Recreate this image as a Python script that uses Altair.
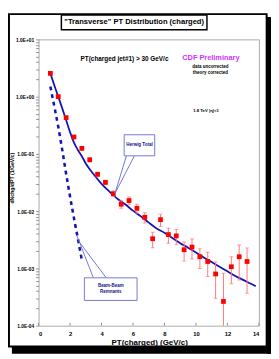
import altair as alt
import pandas as pd

# ---------------- data ----------------
pt_bins = [0.75, 1.25, 1.75, 2.25, 2.75, 3.25, 3.75, 4.25, 4.75, 5.25, 5.75, 6.25, 6.75,
           7.25, 7.75, 8.25, 8.75, 9.25, 9.75, 10.25, 10.75, 11.25, 11.75, 12.25, 12.75, 13.25]
dndpt = [2.55, 1.0, 0.43, 0.197, 0.125, 0.079, 0.044, 0.0318, 0.0202, 0.0132, 0.0153, 0.0112,
         0.0078, 0.0033, 0.0071, 0.0039, 0.0037, 0.00212, 0.00236, 0.0016, 0.00132, 0.0008,
         0.000265, 0.00107, 0.0016, 0.00132]
dndpt_err = [0.12, 0.05, 0.025, 0.012, 0.008, 0.006, 0.004, 0.003, 0.0022, 0.002, 0.0023, 0.002,
             0.0016, 0.001, 0.0017, 0.00115, 0.0011, 0.00078, 0.0009, 0.0006, 0.0006, 0.0005,
             0.00056, 0.00053, 0.00097, 0.00095]

herwig_pt = [0.75, 1.0, 1.25, 1.5, 1.75, 2.0, 2.25, 2.5, 2.75, 3.0, 3.5, 4.0, 4.5, 5.0, 5.5,
             6.0, 6.5, 7.0, 7.5, 8.0, 8.5, 9.0, 9.5, 10.0, 10.5, 11.0, 11.5, 12.0, 12.5, 13.0,
             13.5, 13.8]
herwig_total = [2.55, 1.58, 1.0, 0.63, 0.39, 0.24, 0.158, 0.117, 0.091, 0.068, 0.044, 0.030,
                0.022, 0.0166, 0.0132, 0.0102, 0.0081, 0.0063, 0.0050, 0.0042, 0.0034, 0.00275,
                0.0023, 0.0019, 0.00155, 0.00129, 0.00107, 0.00089, 0.00074, 0.00063, 0.00054,
                0.00049]

bbr_pt = [0.75, 1.0, 1.25, 1.5, 1.75, 2.0, 2.25, 2.5, 2.75]
bbr_val = [1.5, 0.68, 0.3, 0.12, 0.045, 0.018, 0.0075, 0.0033, 0.0014]

y_tick_values = [1e-4, 1e-3, 1e-2, 1e-1, 1.0, 10.0]
y_tick_labels = ["1.0E-04", "1.0E-03", "1.0E-02", "1.0E-01", "1.0E+00", "1.0E+01"]
x_tick_values = [0, 2, 4, 6, 8, 10, 12, 14]

title_text = '"Transverse" PT Distribution (charged)'
x_title = "PT(charged)  (GeV/c)"
y_title = "dNchg/dPT (1/GeV/c)"

# ---------------- layout ----------------
W, H = 227, 295
FONT = "Liberation Sans"
BLUE = "#1414b4"
BOXBLUE = "#7474d8"

xs = alt.Scale(domain=[0, 14], nice=False, zero=False)
ys = alt.Scale(type="log", domain=[1e-4, 10], nice=False)

minor_vals = [m * 10.0 ** k for k in range(-4, 1) for m in range(1, 10)] + [10.0]
label_expr = "".join(
    f"abs(datum.value / {v} - 1) < 1e-6 ? '{lab}' : " for v, lab in zip(y_tick_values, y_tick_labels)
) + "''"

xenc = lambda f: alt.X(f, type="quantitative", scale=xs,
                        axis=alt.Axis(values=x_tick_values, title=None, tickSize=0,
                                      labelFontSize=6, labelFontWeight="bold", labelPadding=5,
                                      labelFont=FONT, labelColor="black", domain=False, grid=False,
                                      zindex=2))
yenc = lambda f: alt.Y(f, type="quantitative", scale=ys,
                        axis=alt.Axis(values=minor_vals, labelExpr=label_expr, title=None,
                                      tickSize=3, tickColor="#909090", labelFontSize=5,
                                      labelFontWeight="bold", labelPadding=2, labelFont=FONT,
                                      labelColor="black", domain=False, grid=False,
                                      labelOverlap=False, zindex=2))

one = pd.DataFrame({"a": [0]})

# outer frame
frame = alt.Chart(one).mark_rect(fillOpacity=0, stroke="black", strokeWidth=2).encode(
    x=alt.value(-30.5), x2=alt.value(235), y=alt.value(-26), y2=alt.value(316.5))
shadow_r = alt.Chart(one).mark_rect(fill="black").encode(
    x=alt.value(235), x2=alt.value(239.5), y=alt.value(-23), y2=alt.value(324))
shadow_b = alt.Chart(one).mark_rect(fill="black").encode(
    x=alt.value(-27.5), x2=alt.value(239.5), y=alt.value(316.5), y2=alt.value(324))

# title box
tbox = alt.Chart(one).mark_rect(fill="white", stroke="black", strokeWidth=1.5).encode(
    x=alt.value(23.5), x2=alt.value(173.5), y=alt.value(-25), y2=alt.value(-10))
ttext = alt.Chart(pd.DataFrame({"t": [title_text]})).mark_text(
    font=FONT, fontWeight="bold", fontSize=7.8, color="black", baseline="middle", align="center"
).encode(x=alt.value(98.5), y=alt.value(-17.5), text="t:N")

# data frames
df_pts = pd.DataFrame({"pt": pt_bins, "v": dndpt, "e": dndpt_err})
df_h = pd.DataFrame({"pt": herwig_pt, "v": herwig_total})
df_b = pd.DataFrame({"pt": bbr_pt, "v": bbr_val})

herwig = alt.Chart(df_h).mark_line(color=BLUE, strokeWidth=1.8, interpolate="monotone").encode(
    x=xenc("pt"), y=yenc("v"))
bbr = alt.Chart(df_b).mark_line(color=BLUE, strokeWidth=2.6, strokeDash=[4, 4]).encode(
    x=xenc("pt"), y=yenc("v"))

base_err = alt.Chart(df_pts).transform_calculate(
    lo="max(datum.v - datum.e, 1e-6)", hi="datum.v + datum.e")
err = base_err.mark_rule(color="#ff7878", strokeWidth=1, clip=True).encode(
    x=xenc("pt"), y=yenc("lo"), y2="hi:Q")
cap_lo = base_err.mark_tick(color="#ff7878", orient="horizontal", size=4, thickness=1, clip=True).encode(
    x=xenc("pt"), y=yenc("lo"))
cap_hi = base_err.mark_tick(color="#ff7878", orient="horizontal", size=4, thickness=1, clip=True).encode(
    x=xenc("pt"), y=yenc("hi"))
pts = alt.Chart(df_pts).mark_square(color="#ff0000", size=24, opacity=1).encode(
    x=xenc("pt"), y=yenc("v"))

# callouts (data coordinates)
boxes = pd.DataFrame({"x": [5.44, 2.91], "x2": [7.38, 6.26],
                      "y": [0.216, 0.000685], "y2": [0.0925, 0.000276]})
pointers = pd.DataFrame({"x": [5.58, 6.09, 3.48, 4.30], "y": [0.0925, 0.0925, 0.000685, 0.000685],
                         "x2": [4.86, 4.86, 2.44, 2.60], "y2": [0.0205, 0.0205, 0.00372, 0.00287]})
ptr = alt.Chart(pointers).mark_rule(color=BOXBLUE, strokeWidth=1).encode(
    x=xenc("x"), y=yenc("y"), x2="x2:Q", y2="y2:Q")
box = alt.Chart(boxes).mark_rect(fill="white", stroke=BOXBLUE, strokeWidth=1).encode(
    x=xenc("x"), x2="x2:Q", y=yenc("y"), y2="y2:Q")
callout_txt = pd.DataFrame({"x": [6.41, 4.59, 4.59], "y": [0.142, 0.000495, 0.000381],
                            "t": ["Herwig Total", "Beam-Beam", "Remnants"]})
ctext = alt.Chart(callout_txt).mark_text(font=FONT, fontWeight="bold", fontSize=4.6,
                                         color="#10108c", baseline="middle").encode(
    x=xenc("x"), y=yenc("y"), text="t:N")

# annotation texts
ann = pd.DataFrame({
    "x": [5.46, 10.95, 10.92, 10.92, 10.64],
    "y": [4.58, 4.77, 3.31, 2.6, 0.557],
    "t": ["PT(charged jet#1) > 30 GeV/c", "CDF Preliminary", "data uncorrected",
          "theory corrected", "1.8 TeV |η|<1"],
    "s": [6.6, 7.6, 4.6, 4.6, 4.4],
    "c": ["black", "#cc33ff", "black", "black", "black"],
})
atext = alt.Chart(ann).mark_text(font=FONT, fontWeight="bold", baseline="middle").encode(
    x=xenc("x"), y=yenc("y"), text="t:N",
    size=alt.Size("s:Q", scale=None, legend=None),
    color=alt.Color("c:N", scale=None, legend=None))

# axis titles
xt = alt.Chart(pd.DataFrame({"t": [x_title]})).mark_text(
    font=FONT, fontWeight="bold", fontSize=8.2, color="black", baseline="middle"
).encode(x=alt.value(114.5), y=alt.value(313), text="t:N")
yt = alt.Chart(pd.DataFrame({"t": [y_title]})).mark_text(
    font=FONT, fontWeight="bold", fontSize=5.3, color="black", baseline="middle", angle=270
).encode(x=alt.value(-27.5), y=alt.value(143), text="t:N")

# inward x ticks
xticks = alt.Chart(pd.DataFrame({"pt": x_tick_values})).mark_rule(color="#909090", strokeWidth=1).encode(
    x=xenc("pt"), y=alt.value(H), y2=alt.value(H - 3))

chart = alt.layer(
    frame, shadow_r, shadow_b, tbox, ttext,
    xticks, herwig, bbr, err, cap_lo, cap_hi, pts,
    ptr, box, ctext, atext, xt, yt
).properties(
    width=W, height=H,
    background="white",
    autosize=alt.AutoSizeParams(type="none"),
    padding={"left": 31.5, "top": 27, "right": 12.5, "bottom": 29},
).configure_view(stroke="#a8a8a8", strokeWidth=1)

chart.save("out.html", embed_options={"renderer": "svg", "actions": False})
